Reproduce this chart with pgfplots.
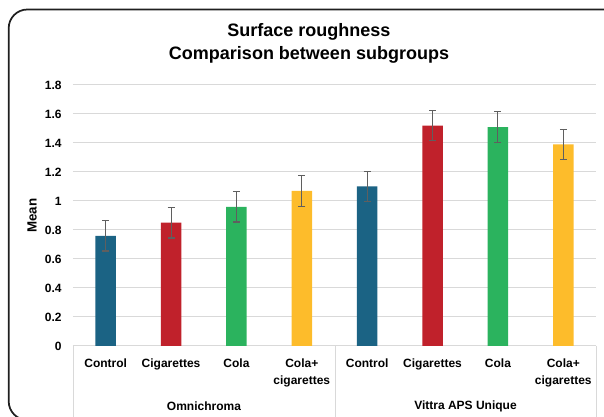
\documentclass[border=0pt]{standalone}
\usepackage{fontspec}
\setmainfont{Liberation Sans}
\usepackage{pgfplots}
\pgfplotsset{compat=1.18}
\definecolor{cblue}{HTML}{1B6384}
\definecolor{cred}{HTML}{C0212B}
\definecolor{cgreen}{HTML}{2BB35E}
\definecolor{cyellow}{HTML}{FDBC2B}
\definecolor{gridc}{HTML}{D9D9D9}
\definecolor{errc}{HTML}{5F5F5F}
\begin{document}
\begin{tikzpicture}
\begin{scope}[x=0.75pt,y=0.75pt]
\useasboundingbox (0,0) rectangle (604,417);
\draw[line width=1.3pt, rounded corners=14pt, color=black!88] (8.7,-3) rectangle (625,407.5);
\draw[gridc, line width=0.75pt] (73,71) -- (73,-2);
\draw[gridc, line width=0.75pt] (335,71) -- (335,-2);
\draw[gridc, line width=0.75pt] (596,71) -- (596,-2);
\node[font=\bfseries\fontsize{13.5}{16}\selectfont] at (309,385) {Surface roughness};
\node[font=\bfseries\fontsize{13.5}{16}\selectfont] at (309,362) {Comparison between subgroups};
\node[font=\bfseries\fontsize{9}{11}\selectfont] at (204,10.5) {Omnichroma};
\node[font=\bfseries\fontsize{9}{11}\selectfont] at (465.5,10.5) {Vittra APS Unique};
\end{scope}
\begin{axis}[
  at={(54.75pt,53.25pt)}, anchor=south west,
  scale only axis, width=392.25pt, height=195.75pt,
  xmin=-0.5, xmax=7.5, ymin=0, ymax=1.8,
  axis x line*=bottom, axis y line*=left,
  x axis line style={draw=gridc, line width=0.75pt, -},
  y axis line style={draw=none},
  tick style={draw=none}, major tick length=0pt,
  ymajorgrids, grid style={draw=gridc, line width=0.75pt},
  ytick={0,0.2,0.4,0.6,0.8,1,1.2,1.4,1.6,1.8},
  /pgf/number format/assume math mode=true,
  yticklabel style={font=\bfseries\fontsize{9}{11}\selectfont, xshift=-5pt},
  xtick={0,1,2,3,4,5,6,7},
  xticklabels={Control,Cigarettes,Cola,{Cola+\\cigarettes},Control,Cigarettes,Cola,{Cola+\\cigarettes}},
  xticklabel style={font=\bfseries\fontsize{9}{12.75}\selectfont, align=center, anchor=north, yshift=-6pt},
  ylabel={Mean},
  ylabel style={font=\bfseries\fontsize{10}{12}\selectfont, at={(axis description cs:-0.0784,0.5)}, anchor=center, rotate=0},
  error bars/error bar style={draw=errc, line width=0.8pt},
  error bars/error mark options={draw=errc, rotate=90, mark size=2.6pt, line width=0.8pt},
  clip=false,
]
\addplot[ybar, bar width=0.313, bar shift=0pt, fill=cblue, draw=none,
  error bars/.cd, y dir=both, y explicit]
  coordinates {(0,0.76) +- (0,0.105) (4,1.10) +- (0,0.105)};
\addplot[ybar, bar width=0.313, bar shift=0pt, fill=cred, draw=none,
  error bars/.cd, y dir=both, y explicit]
  coordinates {(1,0.85) +- (0,0.105) (5,1.52) +- (0,0.105)};
\addplot[ybar, bar width=0.313, bar shift=0pt, fill=cgreen, draw=none,
  error bars/.cd, y dir=both, y explicit]
  coordinates {(2,0.96) +- (0,0.105) (6,1.51) +- (0,0.105)};
\addplot[ybar, bar width=0.313, bar shift=0pt, fill=cyellow, draw=none,
  error bars/.cd, y dir=both, y explicit]
  coordinates {(3,1.07) +- (0,0.105) (7,1.39) +- (0,0.105)};
\end{axis}
\end{tikzpicture}
\end{document}
